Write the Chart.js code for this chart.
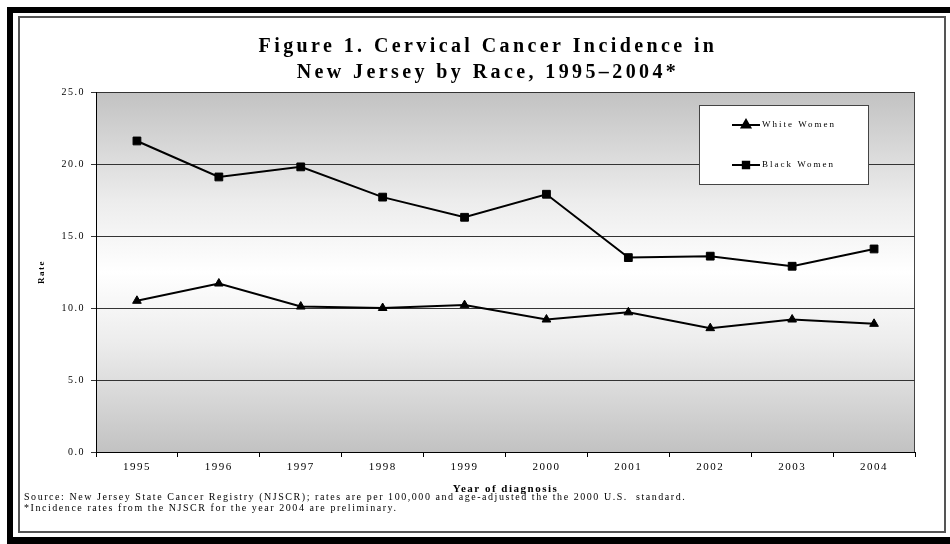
<!DOCTYPE html>
<html>
<head>
<meta charset="utf-8">
<script src="https://cdn.jsdelivr.net/npm/chart.js@4.4.1/dist/chart.umd.min.js"></script>
<style>
  body { margin: 0; background: #fff; width: 950px; height: 544px; overflow: hidden; position: relative; }
  .bar { position: absolute; background: #000; }
  #box { position: absolute; left: 18px; top: 16px; width: 928px; height: 517px; border: 2px solid #555; box-sizing: border-box; }
  #wrap { position: absolute; left: 20px; top: 18px; width: 924px; height: 513px; }
</style>
</head>
<body>
<div class="bar" style="left:7px;top:7px;width:943px;height:6px"></div>
<div class="bar" style="left:7px;top:7px;width:6px;height:537px"></div>
<div class="bar" style="left:7px;top:537px;width:943px;height:7px"></div>
<div id="box"></div>
<div id="wrap"><canvas id="grafico" width="924" height="513"></canvas></div>
<script>
const years = ['1995', '1996', '1997', '1998', '1999', '2000', '2001', '2002', '2003', '2004'];
const whiteWomen = [10.5, 11.7, 10.1, 10.0, 10.2, 9.2, 9.7, 8.6, 9.2, 8.9];
const blackWomen = [21.6, 19.1, 19.8, 17.7, 16.3, 17.9, 13.5, 13.6, 12.9, 14.1];
const yTickLabels = ['0.0', '5.0', '10.0', '15.0', '20.0', '25.0'];
const titleLines = ['Figure 1. Cervical Cancer Incidence in', 'New Jersey by Race, 1995\u20132004*'];
const footnoteLines = [
    'Source: New Jersey State Cancer Registry (NJSCR); rates are per 100,000 and age-adjusted the the 2000 U.S.  standard.',
    '*Incidence rates from the NJSCR for the year 2004 are preliminary.'
];

const SERIF = '"Liberation Serif", "Times New Roman", serif';

// fundo em degradê, título, notas e legenda
const decoracao = {
    id: 'decoracao',
    beforeDraw(chart) {
        const { ctx, chartArea: a } = chart;
        const g = ctx.createLinearGradient(0, a.top, 0, a.bottom);
        g.addColorStop(0, '#c2c2c2');
        g.addColorStop(0.3, '#ececec');
        g.addColorStop(0.5, '#ffffff');
        g.addColorStop(0.7, '#ececec');
        g.addColorStop(1, '#c2c2c2');
        ctx.save();
        ctx.fillStyle = g;
        ctx.fillRect(a.left, a.top, a.width, a.height);
        ctx.strokeStyle = '#444';
        ctx.lineWidth = 1;
        ctx.strokeRect(a.left + 0.5, a.top + 0.5, a.width - 1, a.height);
        ctx.restore();
        ctx.letterSpacing = '1.5px';
    },
    afterDraw(chart) {
        const { ctx, chartArea: a } = chart;
        ctx.save();
        ctx.fillStyle = '#000';
        ctx.textBaseline = 'middle';

        ctx.font = 'bold 20px ' + SERIF;
        ctx.letterSpacing = '3.4px';
        ctx.textAlign = 'center';
        ctx.fillText(titleLines[0], 468, 29);
        ctx.fillText(titleLines[1], 468, 55);

        ctx.font = '10px ' + SERIF;
        ctx.letterSpacing = '1.55px';
        ctx.textAlign = 'left';
        footnoteLines.forEach((t, i) => ctx.fillText(t, 4, 479 + i * 11));

        // legenda
        const bx = a.right - 216, by = a.top + 13, bw = 169, bh = 79;
        ctx.fillStyle = '#fff';
        ctx.fillRect(bx, by, bw, bh);
        ctx.strokeStyle = '#444';
        ctx.lineWidth = 1;
        ctx.strokeRect(bx + 0.5, by + 0.5, bw, bh);
        ctx.font = '9px ' + SERIF;
        ctx.letterSpacing = '2px';
        chart.data.datasets.forEach((ds, i) => {
            const y = by + 20 + i * 40;
            ctx.strokeStyle = '#000';
            ctx.lineWidth = 2;
            ctx.beginPath();
            ctx.moveTo(bx + 33, y);
            ctx.lineTo(bx + 61, y);
            ctx.stroke();
            ctx.fillStyle = '#000';
            Chart.helpers.drawPoint(ctx, {
                pointStyle: ds.pointStyle,
                radius: i === 0 ? 5 : 4.5,
                borderWidth: 1
            }, bx + 47, y);
            ctx.fillText(ds.label, bx + 63, y);
        });
        ctx.restore();
    }
};

const ctx = document.getElementById('grafico').getContext('2d');
new Chart(ctx, {
    type: 'line',
    data: {
        labels: years,
        datasets: [{
            label: 'White Women',
            data: whiteWomen,
            borderColor: '#000',
            backgroundColor: '#000',
            borderWidth: 2,
            pointStyle: 'triangle',
            pointRadius: 5,
            pointBorderWidth: 1,
            tension: 0
        }, {
            label: 'Black Women',
            data: blackWomen,
            borderColor: '#000',
            backgroundColor: '#000',
            borderWidth: 2,
            pointStyle: 'rect',
            pointRadius: 5.5,
            pointBorderWidth: 1,
            tension: 0
        }]
    },
    options: {
        responsive: false,
        animation: false,
        layout: { padding: { top: 74, right: 29, bottom: 35, left: 0 } },
        plugins: {
            legend: { display: false },
            title: { display: false },
            tooltip: { enabled: false }
        },
        scales: {
            x: {
                offset: true,
                afterFit: (s) => { s.height = 44; },
                grid: { drawOnChartArea: false, offset: true, tickLength: 5, color: '#000' },
                border: { color: '#000', width: 1 },
                ticks: { color: '#000', padding: 4, font: { family: SERIF, size: 11 }, maxRotation: 0 },
                title: {
                    display: true,
                    text: 'Year of diagnosis',
                    color: '#000',
                    padding: { top: 3, bottom: 0 },
                    font: { family: SERIF, size: 11, weight: 'bold' }
                }
            },
            y: {
                min: 0,
                max: 25,
                afterFit: (s) => { s.width = 76; },
                grid: { color: '#333', tickLength: 5 },
                border: { color: '#000', width: 1 },
                ticks: {
                    stepSize: 5,
                    color: '#000',
                    padding: 6,
                    font: { family: SERIF, size: 10 },
                    callback: (v, i) => yTickLabels[i]
                },
                title: {
                    display: true,
                    text: 'Rate',
                    color: '#000',
                    padding: { top: 16, bottom: 0 },
                    font: { family: SERIF, size: 9, weight: 'bold' }
                }
            }
        }
    },
    plugins: [decoracao]
});
</script>
</body>
</html>
